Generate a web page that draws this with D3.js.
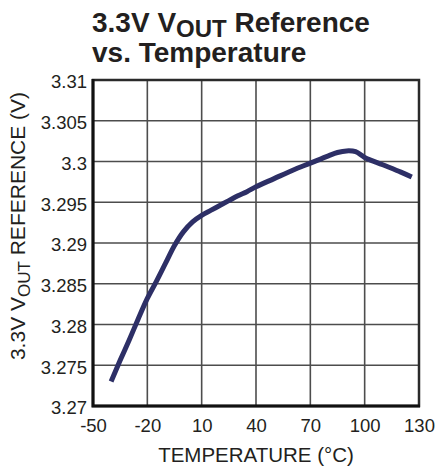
<!DOCTYPE html>
<html>
<head>
<meta charset="utf-8">
<script src="https://cdn.jsdelivr.net/npm/d3@7/dist/d3.min.js"></script>
<style>
  html, body { margin: 0; padding: 0; background: #fff; }
  text { font-family: "Liberation Sans", Arial, Helvetica, sans-serif; fill: #231f20; }
</style>
</head>
<body>
<svg id="chart" width="440" height="466"></svg>
<script>
// ---- data ----
const temperatures = [-40, -35, -30, -25, -20, -15, -10, -5, 0, 5, 10, 15, 20, 25, 30, 35, 40, 50, 60, 70, 80, 85, 90, 95, 100, 110, 120, 126];
const vref = [3.2730, 3.2756, 3.2781, 3.2807, 3.2832, 3.2853, 3.2875, 3.2897, 3.2914, 3.2926, 3.2934, 3.2940, 3.2946, 3.2952, 3.2958, 3.2963, 3.2969, 3.2979, 3.2989, 3.2998, 3.3007, 3.3011, 3.3013, 3.3012, 3.3005, 3.2996, 3.2987, 3.2981];
const xTicks = [-50, -20, 10, 40, 70, 100, 130];
const xTickLabels = ["-50", "-20", "10", "40", "70", "100", "130"];
const yTicks = [3.27, 3.275, 3.28, 3.285, 3.29, 3.295, 3.3, 3.305, 3.31];
const yTickLabels = ["3.27", "3.275", "3.28", "3.285", "3.29", "3.295", "3.3", "3.305", "3.31"];

const svg = d3.select("#chart");
const L = 93, R = 419, T = 80, B = 406;

const x = d3.scaleLinear().domain([-50, 130]).range([L, R]);
const y = d3.scaleLinear().domain([3.27, 3.31]).range([B, T]);

// grid
const grid = svg.append("g");
grid.selectAll("line.v").data(xTicks.slice(1, -1)).join("line")
  .attr("x1", d => x(d)).attr("x2", d => x(d)).attr("y1", T).attr("y2", B)
  .attr("stroke", "#4d4d4d").attr("stroke-width", 1.6);
grid.selectAll("line.h").data(yTicks.slice(1, -1)).join("line")
  .attr("y1", d => y(d)).attr("y2", d => y(d)).attr("x1", L).attr("x2", R)
  .attr("stroke", "#4d4d4d").attr("stroke-width", 1.6);

// frame
svg.append("rect").attr("x", L).attr("y", T).attr("width", R - L).attr("height", B - T)
  .attr("fill", "none").attr("stroke", "#2a2a2a").attr("stroke-width", 2.5);
svg.append("path").attr("d", `M${L},${T - 1}V${B}H${R + 1}`)
  .attr("fill", "none").attr("stroke", "#111").attr("stroke-width", 3);

// axes (labels only)
const xAxis = d3.axisBottom(x).tickValues(xTicks).tickSize(0).tickPadding(0)
  .tickFormat((d, i) => xTickLabels[i]);
const gx = svg.append("g").attr("transform", `translate(0,${B})`).call(xAxis);
gx.select(".domain").remove();
gx.selectAll("text").attr("dy", null).attr("y", 26).style("font-size", "18.5px")
  .style("font-family", '"Liberation Sans", Arial, sans-serif').attr("fill", "#231f20");

const yAxis = d3.axisLeft(y).tickValues(yTicks).tickSize(0).tickPadding(6)
  .tickFormat((d, i) => yTickLabels[i]);
const gy = svg.append("g").attr("transform", `translate(${L},0)`).call(yAxis);
gy.select(".domain").remove();
gy.selectAll("text").attr("dy", "0.42em").style("font-size", "18.5px")
  .style("font-family", '"Liberation Sans", Arial, sans-serif').attr("fill", "#231f20");

// data line
const line = d3.line().x((d, i) => x(temperatures[i])).y(d => y(d)).curve(d3.curveCatmullRom.alpha(0.5));
svg.append("path").datum(vref).attr("d", line)
  .attr("fill", "none").attr("stroke", "#2d2f66").attr("stroke-width", 5)
  .attr("stroke-linecap", "butt").attr("stroke-linejoin", "round");

// title
const t1 = svg.append("text").attr("x", 92).attr("y", 32)
  .style("font-size", "28px").style("font-weight", "bold");
t1.append("tspan").text("3.3V V");
t1.append("tspan").attr("dy", 5).style("font-size", "24px").text("OUT");
t1.append("tspan").attr("dy", -5).text(" Reference");
svg.append("text").attr("x", 92).attr("y", 62)
  .style("font-size", "28px").style("font-weight", "bold").text("vs. Temperature");

// x title
svg.append("text").attr("x", 256).attr("y", 462).attr("text-anchor", "middle")
  .style("font-size", "20.5px").text("TEMPERATURE (°C)");

// y title
const yt = svg.append("text").attr("transform", "translate(25,226) rotate(-90)")
  .attr("text-anchor", "middle").style("font-size", "21px");
yt.append("tspan").text("3.3V V");
yt.append("tspan").attr("dy", 5).style("font-size", "17px").text("OUT");
yt.append("tspan").attr("dy", -5).text(" REFERENCE (V)");
</script>
</body>
</html>
